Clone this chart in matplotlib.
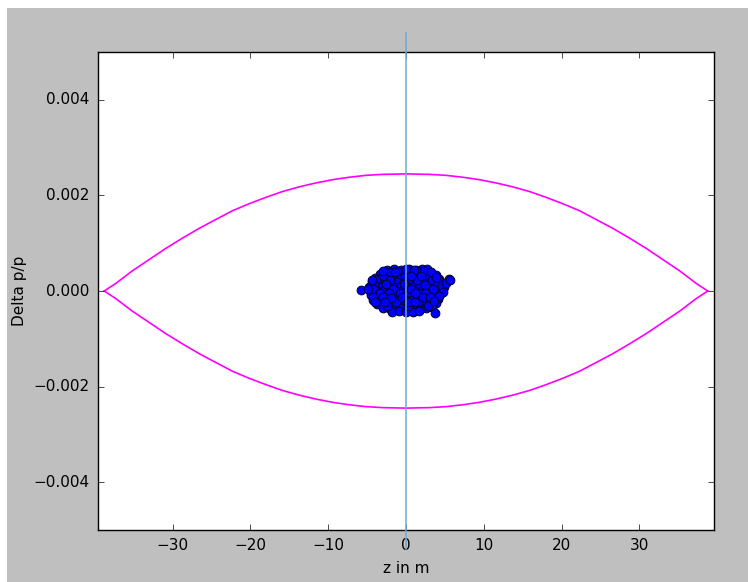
import numpy as np
import matplotlib
matplotlib.use("Agg")
import matplotlib.pyplot as plt
from matplotlib.patches import Rectangle

plt.style.use('classic')

# separatrix, upper half (z in m, delta p/p)
sep_z = [-38.8, -37.3, -35.2, -33.0, -30.9, -28.7, -26.6, -24.4, -22.3, -20.1,
         -18.0, -15.9, -13.7, -11.6, -9.4, -7.3, -5.1, -3.0, 0.0,
         3.0, 5.1, 7.3, 9.4, 11.6, 13.7, 15.9, 18.0, 20.1, 22.3,
         24.4, 26.6, 28.7, 30.9, 33.0, 35.2, 37.3, 38.8]
sep_dp = [0.0, 0.00016, 0.00042, 0.00066, 0.00089, 0.00111, 0.00131, 0.00150, 0.00168, 0.00183,
          0.00196, 0.00208, 0.00218, 0.00226, 0.00233, 0.00238, 0.00242, 0.00244, 0.00245,
          0.00244, 0.00242, 0.00238, 0.00233, 0.00226, 0.00218, 0.00208, 0.00196, 0.00183, 0.00168,
          0.00150, 0.00131, 0.00111, 0.00089, 0.00066, 0.00042, 0.00016, 0.0]

# bunch particles (z in m, delta p/p in units of 1e-4)
part_z = [
    -2.5, -1.6, -0.6, 0.4, 1.3, 2.1, 2.7,
    -3.4, -2.6, -1.9, -1.0, -0.2, 0.7, 1.5, 2.4, 3.1, 3.8,
    -4.0, -3.2, -2.3, -1.5, -0.7, 0.1, 1.0, 1.8, 2.7, 3.5, 4.3, 5.5,
    -4.4, -3.6, -2.8, -2.0, -1.2, -0.4, 0.5, 1.3, 2.2, 3.0, 3.9, 4.7,
    -4.7, -3.9, -3.1, -2.4, -1.6, -0.8, 0.0, 0.9, 1.7, 2.5, 3.3, 4.1, 4.9,
    -5.8, -4.6, -3.8, -3.0, -2.1, -1.3, -0.5, 0.4, 1.2, 2.0, 2.9, 3.7, 4.5,
    -4.5, -3.7, -2.9, -2.1, -1.3, -0.4, 0.4, 1.3, 2.1, 2.9, 3.8, 4.4,
    -4.2, -3.3, -2.5, -1.7, -0.9, 0.0, 0.8, 1.6, 2.5, 3.3, 4.1,
    -3.7, -2.9, -2.0, -1.2, -0.4, 0.5, 1.3, 2.1, 3.0, 3.8,
    -3.0, -2.2, -1.4, -0.6, 0.2, 1.0, 1.8, 2.6, 3.3,
    -1.8, -0.9, 0.0, 0.9, 1.7, 3.7,
    -2.1, -1.1, 0.9, 1.8, -3.0, -0.1, 2.9, -3.9, -2.0, 1.4, 3.4, 4.3,
    -4.1, -2.6, -0.3, 2.4, 4.0, -4.2, -1.7, 0.6, 3.5, -3.5, -0.8, 2.0,
    -2.5, 0.3, 2.8, -1.3, 1.6,
    -3.0, -1.4, 0.0, 1.0, 2.3, 3.2, 4.6, 5.2, 5.7,
    -4.9, -3.4, -2.2, 1.2, 2.5, 4.8, -4.3, -3.0, -1.9, -0.5, 2.2, 3.1, 4.2,
    -4.0, -2.7, 0.2, 1.1, 3.6, -4.4, 0.7, 1.9, 3.8,
]
part_dp = [
    4.4, 4.5, 4.3, 4.6, 4.4, 4.5, 4.7,
    3.6, 3.7, 3.5, 3.7, 3.6, 3.8, 3.5, 3.7, 3.6, 3.4,
    2.7, 2.8, 2.6, 2.8, 2.7, 2.9, 2.6, 2.8, 2.7, 2.6, 2.5, 2.5,
    1.8, 1.9, 1.7, 1.9, 1.8, 1.7, 1.9, 1.8, 1.7, 1.9, 1.8, 1.6,
    0.9, 1.0, 0.8, 1.0, 0.9, 0.8, 1.0, 0.9, 0.8, 1.0, 0.9, 0.8, 0.9,
    0.2, 0.0, -0.1, 0.1, 0.0, -0.1, 0.1, 0.0, -0.1, 0.1, 0.0, 0.1, -0.1,
    -0.9, -0.8, -1.0, -0.9, -0.8, -1.0, -0.9, -0.8, -1.0, -0.9, -0.8, -0.7,
    -1.8, -1.7, -1.9, -1.8, -1.7, -1.9, -1.8, -1.7, -1.9, -1.8, -1.6,
    -2.7, -2.6, -2.8, -2.7, -2.6, -2.8, -2.7, -2.6, -2.8, -2.6,
    -3.6, -3.5, -3.7, -3.6, -3.5, -3.7, -3.6, -3.5, -3.4,
    -4.3, -4.2, -4.4, -4.3, -4.2, -4.6,
    4.0, 4.1, 4.0, 4.1, 3.1, 3.2, 3.2, 2.2, 2.3, 2.3, 2.2, 2.0,
    1.3, 1.4, 1.4, 1.3, 1.2, 0.4, 0.5, 0.5, 0.4, -0.4, -0.5, -0.4,
    -3.1, -3.2, -3.1, -2.2, -2.3,
    4.1, 4.0, 4.5, 4.3, 4.1, 4.0, 1.3, 1.7, 2.3,
    0.5, -0.5, -0.4, -0.5, -0.4, -0.3, -1.3, -1.3, -1.4, -1.3, -1.3, -1.2, -1.1,
    -2.2, -2.3, -2.2, -2.2, -2.1, 2.3, 3.2, 3.1, 3.0,
]

fig = plt.figure(figsize=(7.48, 5.82), dpi=100, facecolor='white')
fig.patches.append(Rectangle((7 / 748, 0), 1 - 7 / 748, 574 / 582,
                             transform=fig.transFigure, facecolor='#bfbfbf',
                             edgecolor='none', zorder=-1))
ax = fig.add_axes([98 / 748, 52 / 582, 616 / 748, 478 / 582])

sz = np.array(sep_z)
sdp = np.array(sep_dp)
ax.plot(sz, sdp, color='#ff00ff', lw=1.2)
ax.plot(sz, -sdp, color='#ff00ff', lw=1.2)

ax.plot(part_z, np.array(part_dp) * 1e-4, 'o', ms=6.3, mfc='#0000ff', mec='#000033', mew=0.7)

ax.plot([0, 0], [-0.0054, 0.0054], color='#6fa8dc', lw=1.1, clip_on=False, zorder=5)

ax.set_xlim(-39.6, 39.6)
ax.set_ylim(-0.005, 0.005)
ax.set_xticks([-30, -20, -10, 0, 10, 20, 30])
ax.set_yticks([-0.004, -0.002, 0.0, 0.002, 0.004])
ax.tick_params(labelsize=11, length=4, pad=6)
ax.set_xlabel('z in m', fontsize=11)
ax.set_ylabel('Delta p/p', fontsize=11)
ax.yaxis.set_label_coords(-0.115, 0.5)
ax.xaxis.set_label_coords(0.5, -0.065)

fig.savefig('out.png', dpi=100, facecolor=fig.get_facecolor())
